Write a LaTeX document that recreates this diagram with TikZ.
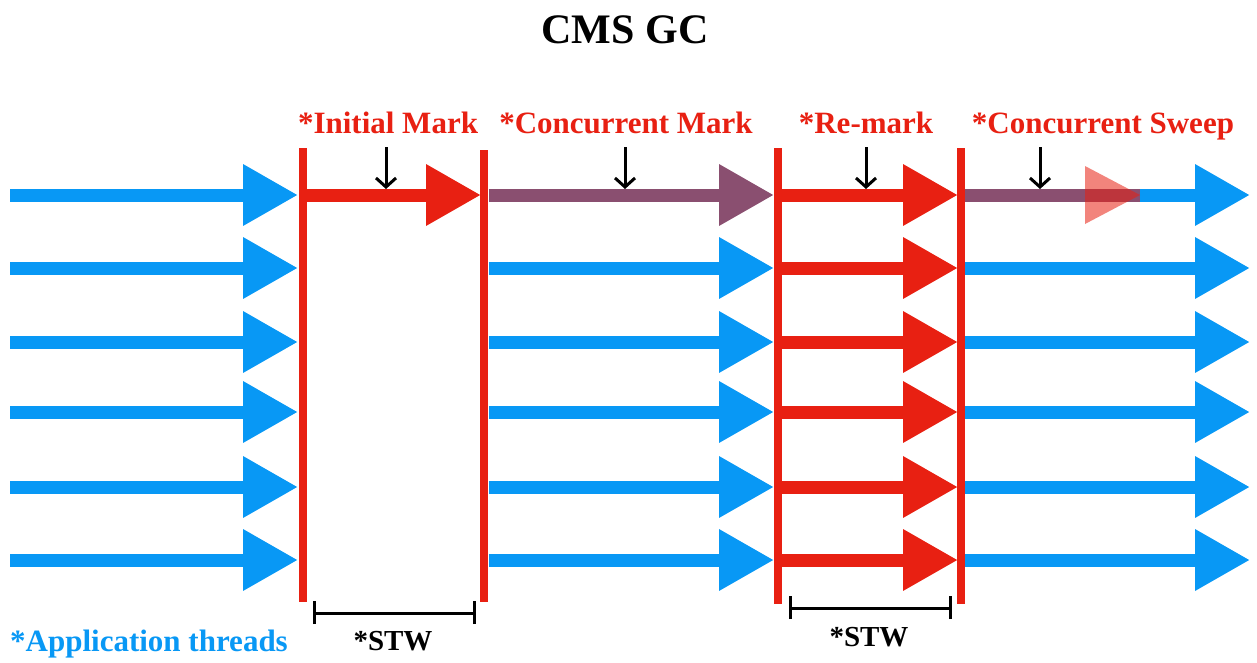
\documentclass[tikz,border=0pt]{standalone}
\usepackage{fontspec}
\setmainfont{Liberation Serif}
\usetikzlibrary{arrows.meta}
\definecolor{appblue}{RGB}{8,152,245}
\definecolor{gcred}{RGB}{232,32,18}
\definecolor{mixpurple}{RGB}{138,79,112}
\tikzset{
  thread/.style={line width=13pt, -{Triangle[length=55pt,width=58pt]}},
  bluethread/.style={thread, draw=appblue, fill=appblue},
  redthread/.style={thread, draw=gcred, fill=gcred},
  purplethread/.style={thread, draw=mixpurple, fill=mixpurple},
  phase/.style={draw=gcred, line width=8pt},
  phaselabel/.style={text=gcred, font=\fontsize{31}{33}\selectfont\bfseries, inner sep=0pt, anchor=base},
  pointer/.style={draw=black, line width=3pt, -{Straight Barb[length=9pt,width=20pt]}},
  stw/.style={draw=black, line width=3pt},
  stwlabel/.style={font=\fontsize{29}{31}\selectfont\bfseries, inner sep=0pt, anchor=base},
}
\begin{document}
\begin{tikzpicture}[x=1pt,y=-1pt]
\useasboundingbox[fill=white] (0,0) rectangle (1257,662);
% title
\node[font=\fontsize{42}{44}\selectfont\bfseries, inner sep=0pt, anchor=base] (title) at (625,43) {CMS GC};
% phase labels
\node[phaselabel] (l1) at (388,133) {*Initial Mark};
\node[phaselabel] (l2) at (626,133) {*Concurrent Mark};
\node[phaselabel] (l3) at (866,133) {*Re-mark};
\node[phaselabel] (l4) at (1103,133) {*Concurrent Sweep};
% thread arrows
\foreach \i/\y in {1/195,2/268,3/342,4/412,5/487,6/560}{
  \coordinate (a\i) at (10,\y);   \coordinate (b\i) at (298,\y);
  \coordinate (c\i) at (489,\y);  \coordinate (d\i) at (774,\y);
  \coordinate (e\i) at (782,\y);  \coordinate (f\i) at (958,\y);
  \coordinate (g\i) at (965,\y);  \coordinate (h\i) at (1250,\y);
  \draw[bluethread] (a\i) -- (b\i);
  \draw[redthread] (e\i) -- (f\i);
  \draw[bluethread] (g\i) -- (h\i);
}
\foreach \i in {2,...,6}{ \draw[bluethread] (c\i) -- (d\i); }
% top row special arrows
\coordinate (im0) at (306,195); \coordinate (im1) at (481,195);
\draw[redthread] (im0) -- (im1);
\draw[purplethread] (c1) -- (d1);
\coordinate (sw1) at (1140,195);
\draw[draw=mixpurple, line width=13pt] (g1) -- (sw1);
\fill[gcred, opacity=0.55] (1085,166) -- (sw1) -- (1085,224) -- cycle;
% phase boundaries
\foreach \n/\x/\t/\b in {p1/303/148/602, p2/484/150/602, p3/778/148/604, p4/961/148/604}{
  \coordinate (\n t) at (\x,\t); \coordinate (\n b) at (\x,\b);
  \draw[phase] (\n t) -- (\n b);
}
% pointers
\foreach \n/\x in {q1/386,q2/625,q3/866,q4/1040}{
  \coordinate (\n t) at (\x,147); \coordinate (\n b) at (\x,189);
  \draw[pointer] (\n t) -- (\n b);
}
% STW brackets
\coordinate (s1a) at (314,613); \coordinate (s1b) at (474,613);
\draw[stw] (s1a) -- (s1b);
\draw[stw] ([yshift=-11pt]s1a) -- ([yshift=12pt]s1a);
\draw[stw] ([yshift=-11pt]s1b) -- ([yshift=12pt]s1b);
\node[stwlabel] (stw1) at (393,650) {*STW};
\coordinate (s2a) at (790,608); \coordinate (s2b) at (950,608);
\draw[stw] (s2a) -- (s2b);
\draw[stw] ([yshift=-11pt]s2a) -- ([yshift=12pt]s2a);
\draw[stw] ([yshift=-11pt]s2b) -- ([yshift=12pt]s2b);
\node[stwlabel] (stw2) at (869,646) {*STW};
% legend
\node[text=appblue, font=\fontsize{31}{33}\selectfont\bfseries, inner sep=0pt, anchor=base] (apps) at (149,651) {*Application threads};
\end{tikzpicture}
\end{document}
